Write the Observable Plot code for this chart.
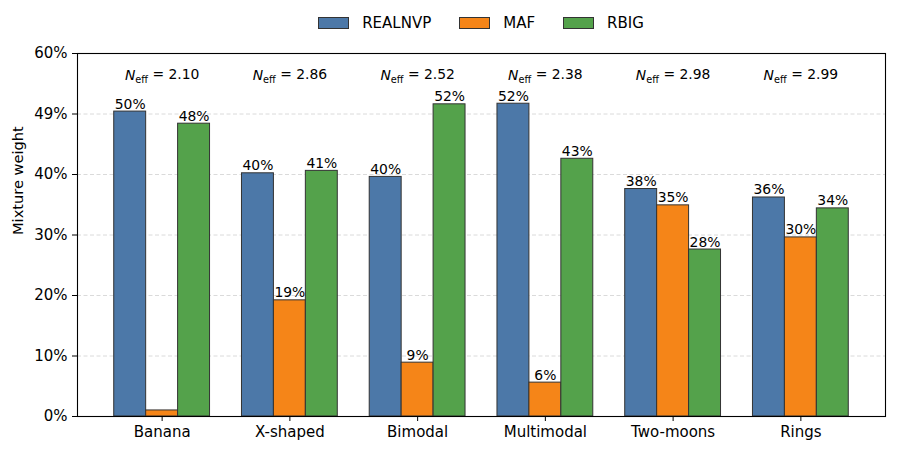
<!DOCTYPE html>
<html>
<head>
<meta charset="utf-8">
<script src="https://cdn.jsdelivr.net/npm/d3@7"></script>
<script src="https://cdn.jsdelivr.net/npm/@observablehq/plot@0.6"></script>
<style>
  html, body { margin: 0; padding: 0; background: #fff; }
  body { width: 897px; height: 453px; overflow: hidden; font-family: "DejaVu Sans", sans-serif; }
  #legend { height: 38px; box-sizing: border-box; padding: 8px 12px 0 77px; display: flex; justify-content: center; align-items: center; font-size: 15px; color: #000; }
  .item { display: flex; align-items: center; margin: 0 14px; }
  .patch { width: 29px; height: 10px; border: 1px solid #333; margin-right: 13px; }
  #chart svg { display: block; }
  #chart svg text { font-family: "DejaVu Sans", sans-serif; }
</style>
</head>
<body>
<div id="legend"></div>
<div id="chart"></div>
<script>
const categories = ["Banana", "X-shaped", "Bimodal", "Multimodal", "Two-moons", "Rings"];
const series = ["REALNVP", "MAF", "RBIG"];
const colors = ["#4c78a8", "#f58518", "#54a24b"];
const realnvp = [50.4, 40.2, 39.6, 51.7, 37.6, 36.2];
const maf = [1.0, 19.2, 8.9, 5.6, 34.9, 29.6];
const rbig = [48.4, 40.6, 51.6, 42.6, 27.6, 34.4];
const neff = ["2.10", "2.86", "2.52", "2.38", "2.98", "2.99"];
const yTicks = [0, 10, 20, 30, 40, 50, 60];
const yTickLabels = ["0%", "10%", "20%", "30%", "40%", "49%", "60%"];
const gridLines = [10, 20, 30, 40, 50];

const values = [realnvp, maf, rbig];
const barW = 0.25;
const rows = [];
categories.forEach((c, i) => {
  series.forEach((s, j) => {
    const cx = i + (j - 1) * barW;
    rows.push({category: c, series: s, value: values[j][i], x1: cx - barW / 2, x2: cx + barW / 2, cx});
  });
});
const neffRows = categories.map((c, i) => ({i, text: neff[i]}));

// legend
const legend = d3.select("#legend");
series.forEach((s, j) => {
  const it = legend.append("div").attr("class", "item");
  it.append("div").attr("class", "patch").style("background", colors[j]);
  it.append("span").text(s);
});

const chart = Plot.plot({
  width: 897,
  height: 415,
  marginLeft: 77,
  marginRight: 12,
  marginTop: 15,
  marginBottom: 37,
  style: {fontFamily: "DejaVu Sans", fontSize: "15px", color: "#000", background: "#fff"},
  x: {domain: [-0.6625, 5.6625]},
  y: {domain: [0, 60]},
  color: {domain: series, range: colors},
  marks: [
    Plot.ruleY(gridLines, {stroke: "#bbb", strokeOpacity: 0.6, strokeDasharray: "4,2.5", strokeWidth: 0.9}),
    Plot.rectY(rows, {x1: "x1", x2: "x2", y1: 0, y2: "value", fill: "series", stroke: "#333", strokeWidth: 1, insetLeft: 0, insetRight: 0}),
    Plot.text(rows.filter(d => d.value >= 2), {x: "cx", y: "value", text: d => d3.format(".0f")(d.value) + "%", lineAnchor: "bottom", dy: -3, fontSize: 13.9, fill: "#000"}),
    Plot.text(neffRows, {x: "i", text: "text", frameAnchor: "top", lineAnchor: "middle", dy: 22, fontSize: 13.9, fill: "#000", className: "neff"}),
    Plot.axisX({ticks: d3.range(categories.length), tickFormat: i => categories[i], tickSize: 5, tickPadding: 5, label: null, fontSize: 15}),
    Plot.axisY({ticks: yTicks, tickFormat: v => yTickLabels[yTicks.indexOf(v)], tickSize: 5, tickPadding: 5, label: null, fontSize: 15}),
    Plot.text(["Mixture weight"], {frameAnchor: "left", rotate: -90, dx: -59, fontSize: 14.6, fill: "#000"}),
    Plot.frame({stroke: "#000", strokeWidth: 1.1})
  ]
});
document.getElementById("chart").appendChild(chart);

// N_eff mathtext-like formatting
d3.select(chart).selectAll("g.neff text").each(function() {
  const t = d3.select(this);
  const val = t.text();
  t.text(null);
  t.append("tspan").attr("font-style", "italic").text("N");
  t.append("tspan").attr("font-size", "70%").attr("dy", "0.35em").text("eff");
  t.append("tspan").attr("dy", "-0.35em").text(" = " + val);
});
</script>
</body>
</html>
